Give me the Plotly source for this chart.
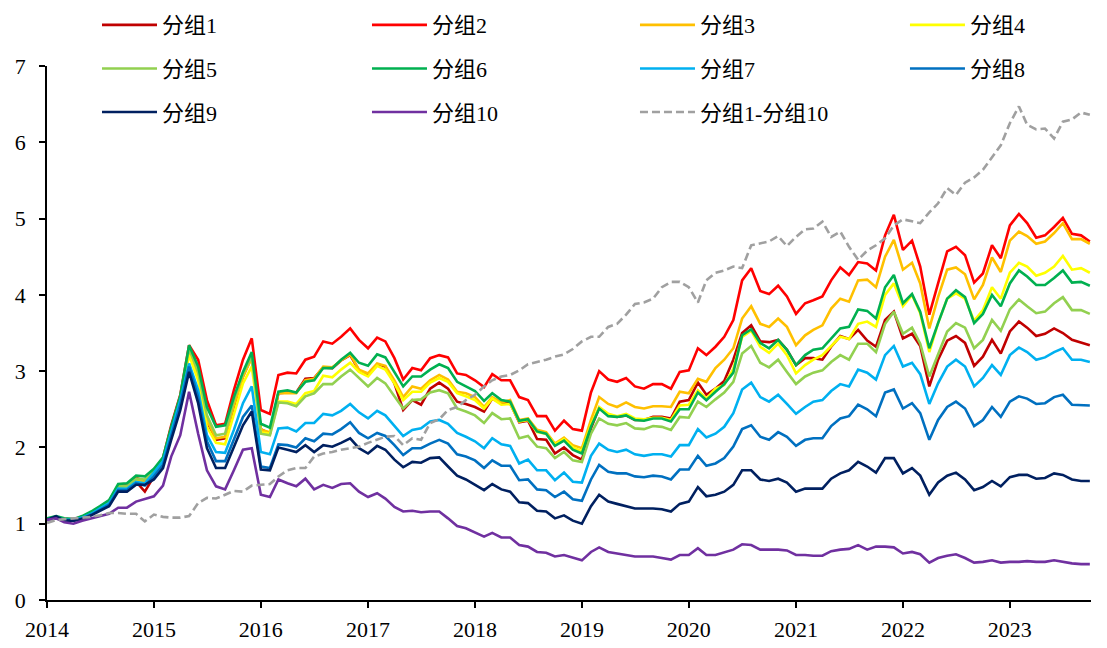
import pandas as pd
import plotly.graph_objects as go

dates = pd.date_range("2014-01-01", periods=118, freq="MS")

g1 = [1.05, 1.08, 1.05, 1.04, 1.07, 1.13, 1.19, 1.26, 1.45, 1.45, 1.55, 1.42,
      1.62, 1.80, 2.22, 2.64, 3.25, 2.97, 2.34, 2.10, 2.12, 2.53, 2.93, 3.19,
      2.24, 2.18, 2.71, 2.72, 2.72, 2.90, 2.91, 3.05, 3.04, 3.14, 3.21, 3.01, 2.95, 3.09, 3.06, 2.84, 2.49, 2.62, 2.56, 2.77, 2.85, 2.77, 2.60, 2.57, 2.53, 2.47, 2.64, 2.58,
      2.58, 2.33, 2.35, 2.11, 2.10, 1.92, 2.00, 1.90, 1.84, 2.25, 2.52, 2.43, 2.40, 2.42, 2.36, 2.36, 2.40, 2.40, 2.38, 2.60, 2.62, 2.85, 2.69, 2.77,
      2.87, 3.15,
      3.50, 3.60, 3.39, 3.38, 3.41, 3.28, 3.08, 3.17, 3.17, 3.15, 3.32, 3.46, 3.42, 3.54, 3.40, 3.32, 3.67, 3.78,
      3.43, 3.49, 3.33, 2.80, 3.15, 3.40, 3.46, 3.37, 3.07, 3.19, 3.41, 3.23, 3.52, 3.65, 3.57, 3.46, 3.49, 3.56, 3.50, 3.41, 3.37, 3.34]
g2 = [1.06, 1.09, 1.06, 1.06, 1.09, 1.15, 1.22, 1.30, 1.50, 1.51, 1.60, 1.56,
      1.66, 1.86, 2.29, 2.69, 3.34, 3.15, 2.62, 2.29, 2.31, 2.75, 3.15, 3.43,
      2.49, 2.44, 2.95, 2.98, 2.97, 3.15, 3.19, 3.39, 3.36, 3.45, 3.56, 3.41, 3.30, 3.44, 3.39, 3.17, 2.89, 3.04, 3.01, 3.17, 3.21, 3.18, 2.97, 2.95, 2.88, 2.79, 2.96, 2.88,
      2.88, 2.66, 2.62, 2.41, 2.41, 2.22, 2.35, 2.24, 2.22, 2.72, 3.00, 2.89, 2.86, 2.91, 2.80, 2.77, 2.83, 2.83, 2.77, 2.99, 3.01, 3.30, 3.21, 3.32, 3.45, 3.67,
      4.19, 4.35, 4.05, 4.01, 4.12, 3.98, 3.75, 3.89, 3.93, 3.98, 4.19, 4.36, 4.26, 4.43, 4.41, 4.32, 4.78, 5.05,
      4.59, 4.71, 4.37, 3.74, 4.15, 4.57, 4.63, 4.52, 4.16, 4.28, 4.65, 4.48, 4.91, 5.06, 4.94, 4.75, 4.78, 4.89, 5.01, 4.80, 4.78, 4.70]
g3 = [1.06, 1.09, 1.06, 1.05, 1.09, 1.14, 1.21, 1.28, 1.48, 1.49, 1.57, 1.55,
      1.68, 1.84, 2.24, 2.64, 3.28, 2.95, 2.36, 2.12, 2.14, 2.56, 2.93, 3.17,
      2.23, 2.20, 2.71, 2.71, 2.71, 2.88, 2.90, 3.06, 3.05, 3.14, 3.22, 3.02, 2.97, 3.10, 3.07, 2.88, 2.66, 2.80, 2.77, 2.88, 2.95, 2.89, 2.73, 2.71, 2.66, 2.53, 2.66, 2.59,
      2.62, 2.36, 2.38, 2.23, 2.20, 2.05, 2.13, 2.03, 1.99, 2.36, 2.66, 2.57, 2.53, 2.59, 2.53, 2.51, 2.54, 2.54, 2.53, 2.73, 2.71, 2.90, 2.86, 3.04,
      3.15, 3.30,
      3.69, 3.85, 3.62, 3.58, 3.69, 3.58, 3.34, 3.47, 3.54, 3.60, 3.82, 3.95, 3.91, 4.19, 4.20, 4.10, 4.50, 4.72,
      4.33, 4.42, 4.15, 3.56, 3.97, 4.33, 4.36, 4.27, 3.94, 4.13, 4.49, 4.30, 4.71, 4.83, 4.77, 4.67, 4.70, 4.81, 4.94, 4.73, 4.73, 4.67]
g4 = [1.05, 1.09, 1.05, 1.05, 1.08, 1.14, 1.20, 1.27, 1.46, 1.47, 1.55, 1.52,
      1.66, 1.82, 2.21, 2.62, 3.21, 2.88, 2.27, 2.06, 2.04, 2.45, 2.84, 3.06,
      2.20, 2.18, 2.60, 2.60, 2.57, 2.71, 2.74, 2.94, 2.92, 3.02, 3.11, 2.99, 2.93, 3.07, 3.02, 2.84, 2.62, 2.73, 2.73, 2.85, 2.91, 2.86, 2.71, 2.67, 2.62, 2.51, 2.64, 2.56,
      2.57, 2.34, 2.36, 2.20, 2.18, 2.04, 2.11, 2.00, 1.95, 2.30, 2.53, 2.44, 2.41, 2.44, 2.38, 2.37, 2.39, 2.39, 2.36, 2.55, 2.56, 2.75, 2.64, 2.77,
      2.82, 3.03,
      3.45, 3.53, 3.32, 3.24, 3.36, 3.21, 2.97, 3.08, 3.15, 3.21, 3.33, 3.45, 3.42, 3.62, 3.65, 3.58, 4.00, 4.15,
      3.85, 4.00, 3.76, 3.25, 3.63, 3.95, 4.02, 3.95, 3.66, 3.80, 4.10, 3.95, 4.29, 4.42, 4.37, 4.25, 4.29, 4.37, 4.51, 4.33, 4.35, 4.29]
g5 = [1.06, 1.09, 1.06, 1.05, 1.09, 1.15, 1.21, 1.29, 1.49, 1.50, 1.59, 1.58,
      1.70, 1.85, 2.25, 2.66, 3.30, 2.99, 2.42, 2.16, 2.18, 2.62, 2.97, 3.19,
      2.18, 2.16, 2.59, 2.58, 2.54, 2.67, 2.71, 2.83, 2.83, 2.93, 3.02, 2.91, 2.80, 2.91, 2.84, 2.67, 2.51, 2.62, 2.63, 2.72, 2.75, 2.71, 2.51, 2.47, 2.42, 2.32, 2.45, 2.37,
      2.38, 2.12, 2.15, 2.01, 1.99, 1.86, 1.94, 1.83, 1.81, 2.18, 2.38, 2.31, 2.29, 2.32, 2.25, 2.24, 2.28, 2.27, 2.23, 2.40, 2.39, 2.60, 2.53, 2.63,
      2.72, 2.86,
      3.23, 3.33, 3.11, 3.05, 3.15, 2.99, 2.83, 2.93, 2.98, 3.01, 3.12, 3.21, 3.15, 3.36, 3.36, 3.25, 3.62, 3.78,
      3.49, 3.57, 3.36, 2.93, 3.23, 3.52, 3.63, 3.57, 3.30, 3.41, 3.67, 3.53, 3.81, 3.94, 3.85, 3.76, 3.78, 3.89, 3.97, 3.80, 3.80, 3.75]
g6 = [1.07, 1.10, 1.07, 1.06, 1.10, 1.16, 1.23, 1.31, 1.52, 1.53, 1.63, 1.62,
      1.72, 1.87, 2.27, 2.68, 3.34, 3.06, 2.53, 2.27, 2.29, 2.66, 2.99, 3.25,
      2.31, 2.26, 2.73, 2.75, 2.72, 2.86, 2.88, 3.04, 3.04, 3.15, 3.24, 3.11, 3.07, 3.22, 3.18, 2.99, 2.80, 2.93, 2.93, 3.02, 3.09, 3.04, 2.86, 2.80, 2.74, 2.61, 2.71, 2.62,
      2.60, 2.35, 2.37, 2.21, 2.18, 2.02, 2.09, 1.97, 1.92, 2.27, 2.51, 2.41, 2.40, 2.42, 2.36, 2.35, 2.38, 2.38, 2.34, 2.50, 2.50, 2.72, 2.62, 2.73,
      2.83, 2.98,
      3.47, 3.55, 3.37, 3.30, 3.41, 3.28, 3.08, 3.21, 3.28, 3.30, 3.43, 3.56, 3.58, 3.81, 3.79, 3.69, 4.10, 4.26,
      3.89, 4.01, 3.78, 3.30, 3.63, 3.95, 4.06, 3.97, 3.63, 3.75, 4.00, 3.85, 4.15, 4.32, 4.24, 4.13, 4.13, 4.22, 4.32, 4.16, 4.17, 4.12]
g7 = [1.05, 1.09, 1.05, 1.05, 1.08, 1.13, 1.20, 1.27, 1.46, 1.46, 1.55, 1.53,
      1.67, 1.82, 2.20, 2.62, 3.10, 2.75, 2.16, 1.94, 1.93, 2.23, 2.58, 2.80,
      1.94, 1.91, 2.25, 2.26, 2.21, 2.32, 2.32, 2.44, 2.42, 2.48, 2.57, 2.46, 2.38, 2.48, 2.42, 2.29, 2.15, 2.23, 2.25, 2.34, 2.36, 2.31, 2.19, 2.14, 2.08, 1.99, 2.12, 2.04,
      2.02, 1.79, 1.84, 1.70, 1.70, 1.57, 1.67, 1.55, 1.54, 1.89, 2.05, 1.97, 1.94, 1.97, 1.91, 1.89, 1.91, 1.91, 1.88, 2.03, 2.03, 2.24, 2.13, 2.18,
      2.27, 2.45,
      2.76, 2.85, 2.66, 2.60, 2.69, 2.57, 2.44, 2.53, 2.60, 2.62, 2.74, 2.83, 2.80, 3.02, 2.98, 2.89, 3.21, 3.33,
      3.06, 3.11, 2.96, 2.57, 2.84, 3.06, 3.15, 3.06, 2.80, 2.91, 3.08, 2.95, 3.21, 3.31, 3.25, 3.15, 3.18, 3.25, 3.30, 3.15, 3.15, 3.12]
g8 = [1.05, 1.09, 1.04, 1.04, 1.07, 1.12, 1.18, 1.25, 1.44, 1.44, 1.53, 1.50,
      1.62, 1.77, 2.15, 2.56, 3.06, 2.66, 2.08, 1.82, 1.82, 2.10, 2.40, 2.55,
      1.75, 1.73, 2.04, 2.03, 2.00, 2.12, 2.08, 2.18, 2.17, 2.24, 2.33, 2.19, 2.12, 2.19, 2.15, 2.03, 1.90, 1.99, 1.99, 2.05, 2.10, 2.05, 1.91, 1.88, 1.83, 1.73, 1.83, 1.76,
      1.76, 1.57, 1.58, 1.45, 1.44, 1.35, 1.42, 1.32, 1.30, 1.58, 1.77, 1.68, 1.66, 1.66, 1.62, 1.61, 1.63, 1.62, 1.58, 1.71, 1.71, 1.89, 1.76, 1.79,
      1.86, 2.01,
      2.24, 2.29, 2.14, 2.10, 2.20, 2.14, 2.02, 2.10, 2.12, 2.12, 2.28, 2.38, 2.41, 2.56, 2.50, 2.41, 2.72, 2.76,
      2.51, 2.58, 2.45, 2.10, 2.36, 2.53, 2.60, 2.51, 2.28, 2.36, 2.53, 2.40, 2.60, 2.67, 2.64, 2.57, 2.58, 2.66, 2.69, 2.56, 2.55, 2.55]
g9 = [1.05, 1.10, 1.04, 1.04, 1.06, 1.11, 1.17, 1.23, 1.42, 1.42, 1.51, 1.51,
      1.58, 1.73, 2.10, 2.49, 2.99, 2.58, 1.99, 1.73, 1.73, 2.01, 2.29, 2.47,
      1.71, 1.70, 2.00, 1.97, 1.94, 2.03, 1.94, 2.03, 2.01, 2.06, 2.12, 1.99, 1.92, 2.02, 1.97, 1.84, 1.74, 1.81, 1.80, 1.86, 1.87, 1.75, 1.63, 1.58, 1.51, 1.44, 1.52, 1.45,
      1.42, 1.28, 1.27, 1.17, 1.16, 1.07, 1.11, 1.04, 1.00, 1.23, 1.38, 1.29, 1.26, 1.23, 1.20, 1.20, 1.20, 1.19, 1.16, 1.26, 1.29, 1.48, 1.36, 1.38,
      1.42, 1.51,
      1.70, 1.70, 1.58, 1.56, 1.59, 1.54, 1.42, 1.46, 1.46, 1.46, 1.59, 1.66, 1.70, 1.81, 1.75, 1.67, 1.86, 1.86,
      1.66, 1.73, 1.63, 1.38, 1.54, 1.63, 1.67, 1.58, 1.44, 1.48, 1.56, 1.49, 1.61, 1.64, 1.64, 1.59, 1.60, 1.66, 1.64, 1.58, 1.56, 1.56]
g10 = [1.05, 1.07, 1.02, 1.00, 1.04, 1.07, 1.09, 1.13, 1.21, 1.21, 1.29, 1.32,
       1.36, 1.50, 1.88, 2.16, 2.73, 2.18, 1.70, 1.49, 1.45, 1.70, 1.97, 1.99,
       1.38, 1.35, 1.58, 1.53, 1.49, 1.59, 1.45, 1.51, 1.47, 1.52, 1.53, 1.42, 1.35, 1.40, 1.33, 1.22, 1.16, 1.17, 1.15, 1.16, 1.16, 1.07, 0.97, 0.94, 0.88, 0.83, 0.88, 0.82,
       0.82, 0.72, 0.70, 0.63, 0.62, 0.57, 0.59, 0.56, 0.52, 0.63, 0.69, 0.63, 0.61, 0.59, 0.57, 0.57, 0.57, 0.55, 0.53, 0.59, 0.59, 0.68, 0.59, 0.59,
       0.62, 0.66,
       0.73, 0.72, 0.66, 0.66, 0.66, 0.65, 0.59, 0.59, 0.58, 0.58, 0.64, 0.66, 0.67, 0.72, 0.66, 0.70, 0.70, 0.69,
       0.61, 0.63, 0.60, 0.49, 0.55, 0.58, 0.60, 0.55, 0.49, 0.50, 0.52, 0.49, 0.50, 0.50, 0.51, 0.50, 0.50, 0.52, 0.50, 0.48, 0.47, 0.47]
ls = [1.01, 1.05, 1.06, 1.07, 1.08, 1.09, 1.11, 1.14, 1.14, 1.13, 1.13, 1.03,
      1.12, 1.09, 1.08, 1.08, 1.10, 1.27, 1.34, 1.33, 1.38, 1.43, 1.42, 1.50,
      1.51, 1.52, 1.62, 1.70, 1.73, 1.73, 1.88, 1.92, 1.94, 1.97, 1.99, 2.01, 2.06, 2.10, 2.14, 2.15, 2.03, 2.12, 2.10, 2.32, 2.37, 2.49, 2.53, 2.62, 2.69, 2.80, 2.88, 2.93,
      2.95, 3.01, 3.09, 3.12, 3.15, 3.19, 3.22, 3.29, 3.39, 3.45, 3.45, 3.58, 3.62, 3.74, 3.88, 3.90, 3.95, 4.10, 4.17, 4.17, 4.10, 3.90, 4.19, 4.29, 4.32, 4.37,
      4.35, 4.65, 4.68, 4.70, 4.77, 4.64, 4.76, 4.86, 4.87, 4.96, 4.76, 4.83, 4.63, 4.46, 4.58, 4.65, 4.74, 4.91,
      4.99, 4.96, 4.94, 5.08, 5.20, 5.40, 5.31, 5.47, 5.54, 5.64, 5.81, 5.96, 6.25, 6.47, 6.23, 6.17, 6.18, 6.05, 6.27, 6.30, 6.39, 6.36]

names = ["分组1", "分组2", "分组3", "分组4", "分组5", "分组6", "分组7", "分组8", "分组9", "分组10", "分组1-分组10"]
series = [g1, g2, g3, g4, g5, g6, g7, g8, g9, g10, ls]
colors = ["#C00000", "#FF0000", "#FFC000", "#FFFF00", "#92D050", "#00B050",
          "#00B0F0", "#0070C0", "#002060", "#7030A0", "#A0A0A0"]
# legend laid out as 4 columns x 3 rows (row-major as in the reference)
legend_ids = ["legend", "legend2", "legend3", "legend4"] * 2 + ["legend", "legend2", "legend3"]

FONT = "Liberation Serif, Times New Roman, Noto Sans CJK SC, serif"

fig = go.Figure()
for name, vals, col, lg in zip(names, series, colors, legend_ids):
    dash = "8px,4px" if name == "分组1-分组10" else "solid"
    fig.add_trace(go.Scatter(x=dates, y=vals, mode="lines", name=name,
                             line=dict(color=col, width=2.6, dash=dash),
                             legend=lg, legendgroup=name))

leg_common = dict(orientation="v", xanchor="left", yanchor="top", y=1.116,
                  font=dict(family=FONT, size=22, color="#000000"),
                  bgcolor="rgba(0,0,0,0)", itemwidth=55, tracegroupgap=12)

fig.update_layout(
    width=1099, height=640,
    margin=dict(l=39, r=16, t=58, b=48, autoexpand=False),
    paper_bgcolor="white", plot_bgcolor="white",
    font=dict(family=FONT, size=22, color="#000000"),
    showlegend=True,
    legend=dict(x=0.0479, **leg_common),
    legend2=dict(x=0.3065, **leg_common),
    legend3=dict(x=0.5632, **leg_common),
    legend4=dict(x=0.8218, **leg_common),
    xaxis=dict(range=["2014-01-01", "2023-10-05"], showgrid=False, zeroline=False,
               showline=True, linecolor="#000000", linewidth=1.5,
               ticks="outside", ticklen=6, tickcolor="#000000", tickwidth=1.5,
               dtick="M12", tick0="2014-01-01", tickformat="%Y",
               ticklabelstandoff=3,
               tickfont=dict(family=FONT, size=22)),
    yaxis=dict(range=[0, 7], showgrid=False, zeroline=False,
               showline=True, linecolor="#000000", linewidth=1.5,
               ticks="outside", ticklen=6, tickcolor="#000000", tickwidth=1.5,
               dtick=1, ticklabelstandoff=9,
               tickfont=dict(family=FONT, size=22)),
)

fig.write_html("out.html")
